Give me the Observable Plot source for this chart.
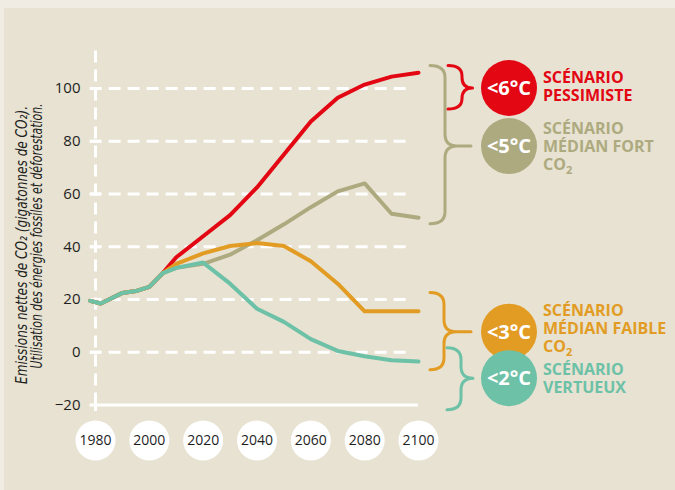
<!DOCTYPE html>
<html>
<head>
<meta charset="utf-8">
<script src="https://cdn.jsdelivr.net/npm/d3@7"></script>
<script src="https://cdn.jsdelivr.net/npm/@observablehq/plot@0.6"></script>
<style>
  html, body { margin: 0; padding: 0; }
  body { width: 675px; height: 490px; background: #e7e2d1; position: relative; overflow: hidden; font-family: "Open Sans", sans-serif; }
  #topband { position: absolute; left: 0; top: 0; width: 675px; height: 8px; background: #f0ece3; }
  #leftband { position: absolute; left: 0; top: 0; width: 4px; height: 490px; background: #f0ece3; }
  #chart { position: absolute; left: 0; top: 0; }
</style>
</head>
<body>
<div id="topband"></div>
<div id="leftband"></div>
<div id="chart"></div>
<script>
// ---- data ----
const historyYears = [1978, 1982, 1990, 1995, 2000, 2005];
const historyValues = [19.5, 18.5, 22.5, 23.2, 24.8, 30];
const scenarioYears = [2010, 2020, 2030, 2040, 2050, 2060, 2070, 2080, 2090, 2100];
const pessimiste = [36, 44, 52, 62.5, 75, 87.5, 96.5, 101.5, 104.5, 106];
const medianFort = [32, 33.5, 37, 42.5, 48.5, 55, 61, 64, 52.5, 51];
const medianFaible = [33.5, 37.5, 40.3, 41.4, 40.3, 34.5, 26, 15.5, 15.5, 15.5];
const vertueux = [32, 34, 26, 16.5, 11.5, 5, 0.5, -1.5, -3, -3.5];
const yTicks = [-20, 0, 20, 40, 60, 80, 100];
const gridValues = [0, 20, 40, 60, 80, 100];
const xTicks = [1980, 2000, 2020, 2040, 2060, 2080, 2100];

const seriesNames = ["<6°C", "<5°C", "<3°C", "<2°C"];
const seriesValues = [pessimiste, medianFort, medianFaible, vertueux];
const seriesColors = ["#e30613", "#aeaa80", "#e29c24", "#6cc1a7"];
const seriesLabels = [
  ["SCÉNARIO", "PESSIMISTE"],
  ["SCÉNARIO", "MÉDIAN FORT", "CO₂"],
  ["SCÉNARIO", "MÉDIAN FAIBLE", "CO₂"],
  ["SCÉNARIO", "VERTUEUX"]
];
// brace extents in data units: [top, tip, bottom]
const braceRanges = [[108.5, 100, 92], [108.5, 78, 48.5], [22.5, 7.6, -6.8], [1.5, -10, -22]];

const series = seriesNames.map((name, i) => ({
  name,
  color: seriesColors[i],
  points: [
    ...historyYears.map((y, j) => ({year: y, value: historyValues[j]})),
    ...scenarioYears.map((y, j) => ({year: y, value: seriesValues[i][j]}))
  ]
}));

const plot = Plot.plot({
  width: 675,
  height: 490,
  marginLeft: 95,
  marginRight: 257,
  marginTop: 88,
  marginBottom: 85.5,
  x: {domain: [1980, 2100], axis: null},
  y: {domain: [-20, 100], axis: null},
  style: {background: "transparent", fontFamily: "'Open Sans', sans-serif", color: "#1e1e1e", overflow: "visible"},
  marks: [
    Plot.ruleY(gridValues, {x1: 1978, x2: 2098, stroke: "white", strokeWidth: 3, strokeDasharray: "12,7"}),
    Plot.ruleX([1980], {y1: -20, y2: 114.5, stroke: "white", strokeWidth: 3, strokeDasharray: "12,7"}),
    Plot.ruleY([-20], {x1: 1978, x2: 2100, stroke: "white", strokeWidth: 3}),
    Plot.ruleY(yTicks.filter(d => d > -20), {x1: 1978.15, x2: 1982.2, stroke: "white", strokeWidth: 3}),
    Plot.ruleX([1980], {y1: -20, y2: -22.5, stroke: "white", strokeWidth: 3}),
    ...series.map(s => Plot.line(s.points, {x: "year", y: "value", stroke: s.color, strokeWidth: 4, strokeLinejoin: "round", strokeLinecap: "round"})),
    Plot.axisY(yTicks, {tickSize: 0, tickPadding: 15, fontSize: 15, label: null}),
    Plot.dot(xTicks, {x: d => d, y: () => -20, dy: 35.5, r: 20, fill: "white", stroke: "none"}),
    Plot.text(xTicks, {x: d => d, y: () => -20, dy: 35.5, text: d => String(d), fontSize: 14, fill: "#1e1e1e"})
  ]
});
document.getElementById("chart").appendChild(plot);

// ---- annotations ----
const svg = d3.select(plot);
const ys = plot.scale("y");
const Y = v => ys.apply(v);

// y-axis title (two rotated lines)
const titleLines = ["Emissions nettes de CO₂ (gigatonnes de CO₂).", "Utilisation des énergies fossiles et déforestation."];
const titleLens = [278, 265];
const titleX = [27, 42];
titleLines.forEach((t, i) => {
  svg.append("text")
    .attr("transform", `translate(${titleX[i]},${i === 0 ? 245 : 236}) rotate(-90)`)
    .attr("text-anchor", "middle")
    .attr("font-family", "'Liberation Sans Narrow', 'DejaVu Sans Condensed', sans-serif")
    .attr("font-style", "italic")
    .attr("font-size", 16)
    .attr("fill", "#1e1e1e")
    .attr("textLength", titleLens[i])
    .attr("lengthAdjust", "spacingAndGlyphs")
    .text(t);
});

const braceX = [[448, 462], [430, 445], [430, 444], [447, 461]];
const tipX = 471;
const cx = 509, r = 28;
const labelOffsets = [-5, -12, -16, -3];

function bracePath(x0, x1, yt, ym, yb) {
  const k = Math.min(12, (ym - yt) / 2, (yb - ym) / 2);
  return `M${x0},${yt} Q${x1},${yt} ${x1},${yt + k} L${x1},${ym - k} Q${x1},${ym} ${x1 + k},${ym} L${tipX},${ym}` +
         ` M${x1 + k},${ym} Q${x1},${ym} ${x1},${ym + k} L${x1},${yb - k} Q${x1},${yb} ${x0},${yb}`;
}

[1, 0, 2, 3].forEach(i => {
  const [t, m, b] = braceRanges[i];
  svg.append("path")
    .attr("d", bracePath(braceX[i][0], braceX[i][1], Y(t), Y(m), Y(b)))
    .attr("fill", "none")
    .attr("stroke", seriesColors[i])
    .attr("stroke-width", 3)
    .attr("stroke-linecap", "round");
});

[1, 0, 2, 3].forEach(i => {
  const cy = Y(braceRanges[i][1]);
  svg.append("circle").attr("cx", cx).attr("cy", cy).attr("r", r).attr("fill", seriesColors[i]);
  svg.append("text")
    .attr("x", cx).attr("y", cy).attr("dy", "0.35em")
    .attr("text-anchor", "middle")
    .attr("font-family", "'Open Sans', sans-serif")
    .attr("font-weight", 700)
    .attr("font-size", 20)
    .attr("fill", "white")
    .text(seriesNames[i]);
  seriesLabels[i].forEach((line, j) => {
    const tx = svg.append("text")
      .attr("x", 543)
      .attr("y", cy + labelOffsets[i] + j * 18)
      .attr("text-anchor", "start")
      .attr("font-family", "'Open Sans', sans-serif")
      .attr("font-weight", 700)
      .attr("font-size", 16)
      .attr("fill", seriesColors[i]);
    if (line === "CO₂") {
      tx.append("tspan").text("CO");
      tx.append("tspan").attr("font-size", 11).attr("dy", 4).text("2");
    } else {
      tx.text(line);
    }
  });
});
</script>
</body>
</html>
